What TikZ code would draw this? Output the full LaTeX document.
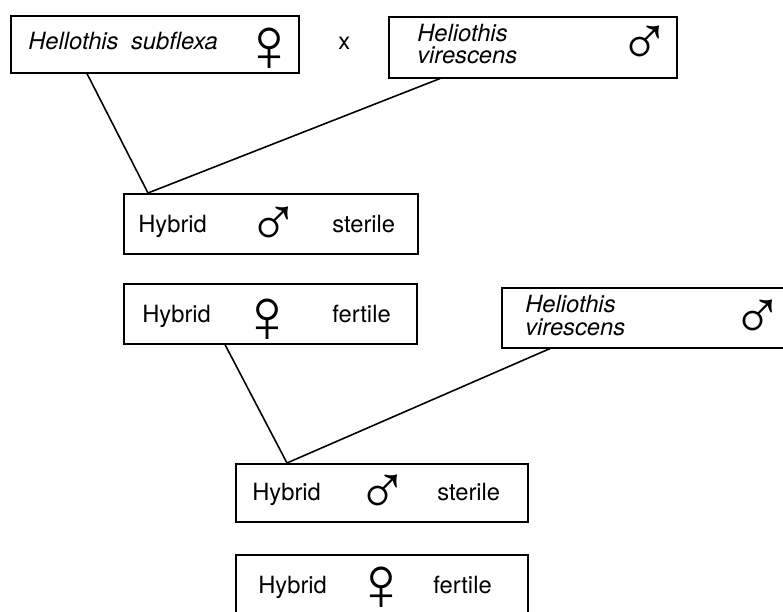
\documentclass[tikz,border=0pt]{standalone}
\usepackage{fontspec}
\setmainfont{TeX Gyre Heros}
\newfontfamily\symfont{Liberation Sans}
\usepackage{tikz}

\newcommand{\female}{{\symfont\fontsize{44}{44}\selectfont\char"2640}}
\newcommand{\male}{{\symfont\fontsize{40}{40}\selectfont\char"2642}}

\begin{document}
\begin{tikzpicture}[x=0.02cm,y=-0.02cm]
  \tikzstyle{every node}=[inner sep=0pt,font=\fontsize{13.5}{15}\selectfont]
  \tikzstyle{box}=[draw,line width=0.9pt,anchor=north west]
  \tikzstyle{txt}=[anchor=base west]
  \useasboundingbox (0,0) rectangle (783,611);
  % first cross
  \node [box,minimum width=5.76cm,minimum height=1.14cm] (hs) at (10,15) {};
  \node [txt] (hsname) at (28,50) {\itshape Hellothis\hspace{0.25em} subflexa};
  \node (hssex) at (269,50) {\female};
  \node [txt] (cross) at (338,50) {x};
  \node [box,minimum width=5.76cm,minimum height=1.22cm] (hva) at (388,16) {};
  \node [txt] (hvagenus) at (417,42) {\itshape Heliothis};
  \node [txt] (hvaspecies) at (417,64) {\itshape virescens};
  \node (hvasex) at (645,46) {\male};
  \node [box,minimum width=5.88cm,minimum height=1.2cm] (hma) at (123,193) {};
  \node [txt] (hmaname) at (138,232) {Hybrid};
  \node (hmasex) at (274,227) {\male};
  \node [txt] (hmastate) at (332,232) {sterile};
  \node [box,minimum width=5.86cm,minimum height=1.2cm] (hfa) at (123,283) {};
  \node [txt] (hfaname) at (142,322) {Hybrid};
  \node (hfasex) at (267,321) {\female};
  \node [txt] (hfastate) at (332,322) {fertile};
  % backcross
  \node [box,minimum width=5.78cm,minimum height=1.2cm] (hvb) at (501,287) {};
  \node [txt] (hvbgenus) at (525,312) {\itshape Heliothis};
  \node [txt] (hvbspecies) at (525,335) {\itshape virescens};
  \node (hvbsex) at (758,320) {\male};
  \node [box,minimum width=5.84cm,minimum height=1.16cm] (hmb) at (235,463) {};
  \node [txt] (hmbname) at (252,500) {Hybrid};
  \node (hmbsex) at (383,495) {\male};
  \node [txt] (hmbstate) at (437,500) {sterile};
  \node [box,minimum width=5.84cm,minimum height=1.3cm] (hfb) at (235,554) {};
  \node [txt] (hfbname) at (258,593) {Hybrid};
  \node (hfbsex) at (381,589) {\female};
  \node [txt] (hfbstate) at (433,593) {fertile};
  \coordinate (j1) at ([xshift=0.5cm]hma.north west);
  \coordinate (j2) at ([xshift=1.04cm]hmb.north west);
  \draw [line width=0.9pt] ([xshift=1.54cm]hs.south west) -- (j1) -- ([xshift=1.04cm]hva.south west);
  \draw [line width=0.9pt] ([xshift=2.04cm]hfa.south west) -- (j2) -- ([xshift=0.98cm]hvb.south west);
\end{tikzpicture}
\end{document}
